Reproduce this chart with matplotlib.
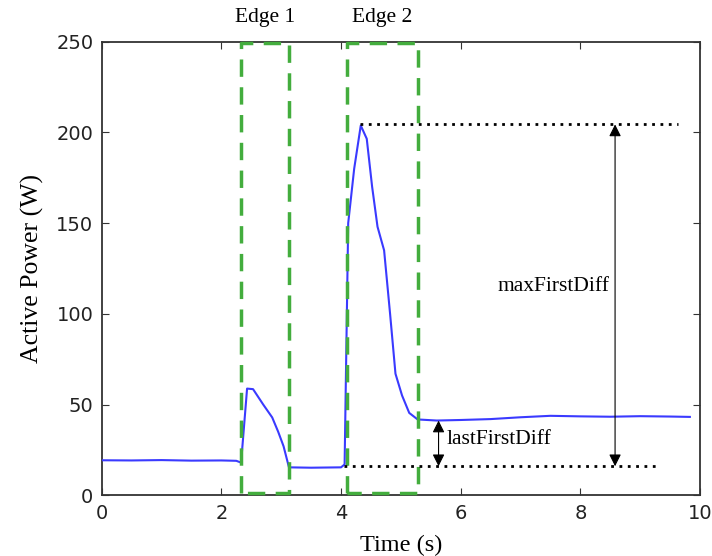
import matplotlib
matplotlib.use("Agg")
import matplotlib.pyplot as plt

# Data
time_s = [0.0, 0.5, 1.0, 1.5, 2.0, 2.25, 2.33, 2.43, 2.53, 2.7, 2.85, 2.95, 3.04, 3.13, 3.5, 4.0, 4.06,
          4.12, 4.22, 4.33, 4.43, 4.52, 4.61, 4.72, 4.82, 4.91, 5.02, 5.14, 5.28, 5.6, 6.0, 6.5, 7.0,
          7.5, 8.0, 8.5, 9.0, 9.5, 9.83]
power_w = [19.3, 19.2, 19.4, 19.1, 19.2, 19.0, 18.0, 58.8, 58.5, 50.0, 42.9, 35.0, 27.0, 15.4, 15.2, 15.4, 17.0,
           150.0, 180.0, 203.8, 196.5, 170.0, 148.0, 135.0, 100.0, 67.0, 55.0, 45.4, 41.8, 41.2, 41.5, 42.0, 43.0,
           43.8, 43.5, 43.3, 43.6, 43.4, 43.2]

edge_labels = ["Edge 1", "Edge 2"]
edge_x0 = [2.33, 4.10]
edge_x1 = [3.13, 5.28]
edge_ymin = 1.0
edge_ymax = 249.5

peak_level = 204.4
base_level = 16.0
last_level = 41.2

x_ticks = [0, 2, 4, 6, 8, 10]
y_ticks = [0, 50, 100, 150, 200, 250]

green = "#43ad3d"
serif = ["Liberation Serif", "DejaVu Serif"]

fig = plt.figure(figsize=(7.12, 5.56), dpi=100)
ax = fig.add_axes([0.1428, 0.1092, 0.8404, 0.8158])

ax.plot(time_s, power_w, color="#3a3aff", lw=1.5, zorder=3)

for lab, a, b in zip(edge_labels, edge_x0, edge_x1):
    ax.plot([a, a, b, b, a], [edge_ymin, edge_ymax, edge_ymax, edge_ymin, edge_ymin],
            color=green, lw=2.5, ls=(0, (5, 3)), zorder=4, clip_on=False)
    ax.text((a + b) / 2, 1.032, lab, transform=ax.get_xaxis_transform(),
            ha="center", va="bottom", fontsize=15.5, family=serif)

# dotted reference lines
ax.plot([4.32, 9.63], [peak_level, peak_level], color="black", lw=2, ls=(0, (1, 2)), zorder=5)
ax.plot([4.05, 9.32], [base_level, base_level], color="black", lw=2, ls=(0, (1, 2)), zorder=5)

# arrows
ax.annotate("", xy=(8.58, base_level), xytext=(8.58, peak_level),
            arrowprops=dict(arrowstyle="<|-|>", color="black", lw=0.8, mutation_scale=18,
                            shrinkA=0, shrinkB=0))
ax.annotate("", xy=(5.63, base_level), xytext=(5.63, last_level),
            arrowprops=dict(arrowstyle="<|-|>", color="black", lw=0.8, mutation_scale=18,
                            shrinkA=0, shrinkB=0))
ax.text(7.55, 115, "maxFirstDiff", ha="center", va="center", fontsize=15.5, family=serif)
ax.text(5.76, 30.5, "lastFirstDiff", ha="left", va="center", fontsize=15.5, family=serif)

ax.set_xlim(0, 10)
ax.set_ylim(0, 250)
ax.set_xticks(x_ticks)
ax.set_yticks(y_ticks)
for s in ax.spines.values():
    s.set_linewidth(1.3)
    s.set_color("#333333")
ax.tick_params(direction="in", top=True, right=True, length=5, labelsize=14, pad=6,
               color="#333333", labelcolor="#222222")
ax.set_xlabel("Time (s)", fontsize=17.5, family=serif, labelpad=9)
ax.set_ylabel("Active Power (W)", fontsize=18.5, family=serif, labelpad=9)

fig.savefig("out.png", dpi=100)
